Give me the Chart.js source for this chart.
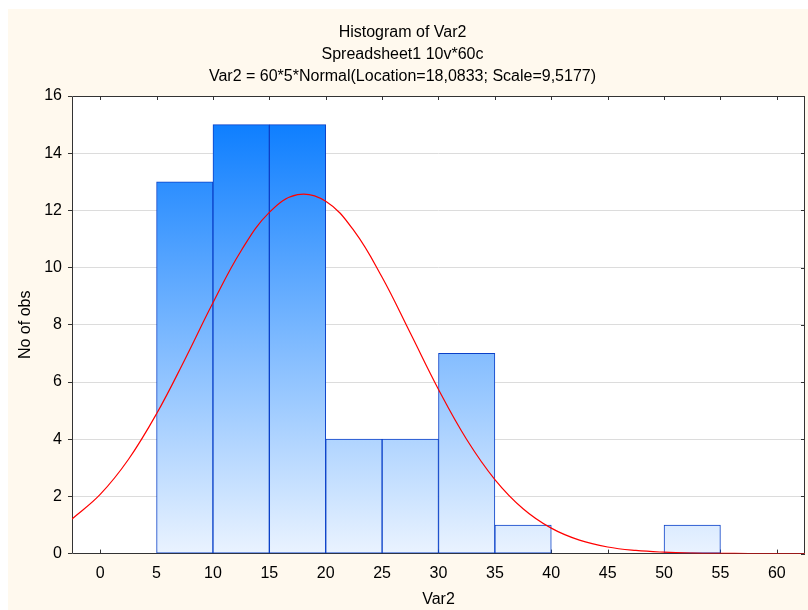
<!DOCTYPE html>
<html>
<head>
<meta charset="utf-8">
<script src="https://cdn.jsdelivr.net/npm/chart.js@4"></script>
<style>
  html, body { margin: 0; padding: 0; background: #ffffff; }
  #c { display: block; }
</style>
</head>
<body>
<canvas id="c" width="808" height="610"></canvas>
<script>
// ---- Data ----
const titleLines = [
  'Histogram of Var2',
  'Spreadsheet1 10v*60c',
  'Var2 = 60*5*Normal(Location=18,0833; Scale=9,5177)'
];
const xTitle = 'Var2';
const yTitle = 'No of obs';

// histogram bins (centre of each 5-wide bin) and counts
const binCenters = [7.5, 12.5, 17.5, 22.5, 27.5, 32.5, 37.5, 52.5];
const binCounts  = [13,  15,   15,   4,    4,    7,    1,    1];

// fitted normal curve
const curveX = [-2.5, 0, 2.5, 5, 7.5, 10, 12.5, 15, 17.5, 20, 22.5, 25, 27.5, 30, 32.5, 35, 37.5, 40, 42.5, 45, 47.5, 50, 52.5, 55, 57.5, 60, 62.5];
const curveY = [1.21, 2.07, 3.29, 4.89, 6.78, 8.77, 10.59, 11.93, 12.55, 12.32, 11.29, 9.66, 7.71, 5.74, 3.99, 2.59, 1.57, 0.89, 0.47, 0.23, 0.11, 0.05, 0.02, 0.008, 0.004, 0.002, 0.001];

// axis ticks
const xTicks = [0, 5, 10, 15, 20, 25, 30, 35, 40, 45, 50, 55, 60];
const yTicks = [0, 2, 4, 6, 8, 10, 12, 14, 16];

const FONT = 'Liberation Sans, Arial, sans-serif';
const CREAM = '#fff9ee';
const AXIS = '#333333';

const framePlugin = {
  id: 'frame',
  beforeDraw(chart) {
    const c = chart.ctx, a = chart.chartArea;
    c.save();
    c.fillStyle = '#ffffff';
    c.fillRect(0, 0, chart.width, chart.height);
    c.fillStyle = CREAM;
    c.fillRect(8, 9, chart.width - 8, chart.height - 9);
    c.fillStyle = '#ffffff';
    c.fillRect(a.left, a.top, a.right - a.left, a.bottom - a.top);
    c.restore();
  },
  beforeDatasetsDraw(chart) {
    const c = chart.ctx, a = chart.chartArea;
    const xs = chart.scales.x, ys = chart.scales.y;
    c.save();
    c.strokeStyle = AXIS;
    c.lineWidth = 1;
    c.beginPath();
    c.rect(Math.round(a.left) + 0.5, Math.round(a.top) + 0.5,
           Math.round(a.right - a.left) - 1, Math.round(a.bottom - a.top) - 1);
    c.stroke();
    c.beginPath();
    xTicks.forEach(v => {
      const px = Math.round(xs.getPixelForValue(v)) + 0.5;
      c.moveTo(px, a.top); c.lineTo(px, a.top + 4);
      c.moveTo(px, a.bottom); c.lineTo(px, a.bottom - 4);
    });
    yTicks.forEach(v => {
      const py = Math.round(ys.getPixelForValue(v)) + 0.5;
      c.moveTo(a.right, py); c.lineTo(a.right - 4, py);
    });
    c.stroke();
    c.restore();
  }
};

const ctx = document.getElementById('c').getContext('2d');
new Chart(ctx, {
  type: 'bar',
  data: {
    datasets: [
      {
        type: 'line',
        data: curveX.map((x, i) => ({ x: x, y: curveY[i] })),
        borderColor: '#ff0000',
        borderWidth: 1.2,
        pointRadius: 0,
        tension: 0.4,
        fill: false,
        order: 1
      },
      {
        type: 'bar',
        data: binCenters.map((x, i) => ({ x: x, y: binCounts[i] })),
        barPercentage: 1,
        categoryPercentage: 1,
        borderWidth: 1,
        borderColor: '#0a40c8',
        borderSkipped: false,
        backgroundColor: (context) => {
          const chart = context.chart;
          const a = chart.chartArea;
          if (!a) return '#5aa0ff';
          const g = chart.ctx.createLinearGradient(0, a.top, 0, a.bottom);
          g.addColorStop(0, '#0077ff');
          g.addColorStop(1, '#eaf3ff');
          return g;
        },
        order: 2
      }
    ]
  },
  options: {
    responsive: false,
    animation: false,
    devicePixelRatio: 1,
    layout: { padding: { left: 0, right: 3, top: 0, bottom: 0 } },
    plugins: {
      legend: { display: false },
      tooltip: { enabled: false },
      title: {
        display: true,
        text: titleLines,
        color: '#000000',
        font: { family: FONT, size: 16, weight: 'normal', lineHeight: 1.375 },
        padding: { top: 22, bottom: 8 }
      }
    },
    scales: {
      x: {
        type: 'linear',
        offset: false,
        min: -2.5,
        max: 62.5,
        afterBuildTicks: (scale) => { scale.ticks = xTicks.map(v => ({ value: v })); },
        grid: { display: false, drawTicks: false, offset: false },
        border: { display: false },
        ticks: {
          color: '#000000',
          font: { family: FONT, size: 16 },
          padding: 10,
          maxRotation: 0,
          autoSkip: false
        },
        title: {
          display: true,
          text: xTitle,
          color: '#000000',
          font: { family: FONT, size: 16 },
          padding: { top: -3, bottom: 1 }
        }
      },
      y: {
        type: 'linear',
        min: 0,
        max: 16,
        afterBuildTicks: (scale) => { scale.ticks = yTicks.map(v => ({ value: v })); },
        grid: {
          color: (c) => (c.tick && (c.tick.value === 0 || c.tick.value === 16)) ? 'rgba(0,0,0,0)' : '#dcdcdc',
          tickColor: AXIS,
          tickLength: 4,
          drawTicks: true
        },
        border: { display: false },
        ticks: {
          color: '#000000',
          font: { family: FONT, size: 16 },
          padding: 6
        },
        title: {
          display: true,
          text: yTitle,
          color: '#000000',
          font: { family: FONT, size: 16 },
          padding: { top: 16, bottom: 3 }
        }
      }
    }
  },
  plugins: [framePlugin]
});
</script>
</body>
</html>
